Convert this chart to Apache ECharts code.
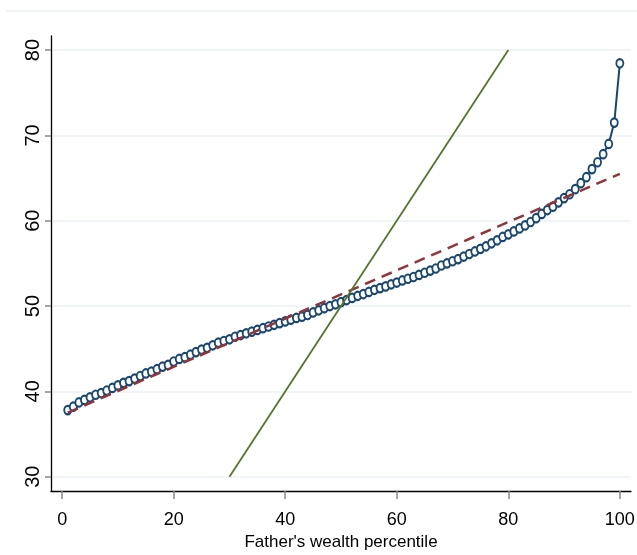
<!DOCTYPE html>
<html>
<head>
<meta charset="utf-8">
<script src="https://cdn.jsdelivr.net/npm/echarts@6/dist/echarts.min.js"></script>
<style>
html,body{margin:0;padding:0;background:#fff;}
#chart{width:637px;height:555px;}
</style>
</head>
<body>
<div id="chart"></div>
<script>
// Father's wealth percentile (x) for the connected scatter
const percentiles = [1,2,3,4,5,6,7,8,9,10,11,12,13,14,15,16,17,18,19,20,
  21,22,23,24,25,26,27,28,29,30,31,32,33,34,35,36,37,38,39,40,
  41,42,43,44,45,46,47,48,49,50,51,52,53,54,55,56,57,58,59,60,
  61,62,63,64,65,66,67,68,69,70,71,72,73,74,75,76,77,78,79,80,
  81,82,83,84,85,86,87,88,89,90,91,92,93,94,95,96,97,98,99,100];
// Son's outcome
const sonValues = [37.8,38.2,38.7,39.0,39.3,39.6,39.8,40.1,40.4,40.7,
  41.0,41.2,41.5,41.8,42.1,42.3,42.6,42.9,43.1,43.5,
  43.8,44.0,44.3,44.6,44.9,45.1,45.4,45.7,45.9,46.1,
  46.4,46.6,46.8,47.0,47.2,47.4,47.6,47.8,48.0,48.2,
  48.4,48.6,48.75,48.95,49.25,49.5,49.75,50.0,50.2,50.45,
  50.7,50.95,51.2,51.4,51.65,51.9,52.1,52.3,52.55,52.75,
  53.0,53.2,53.4,53.65,53.9,54.15,54.4,54.75,55.0,55.25,
  55.5,55.8,56.1,56.4,56.7,57.0,57.35,57.7,58.1,58.4,
  58.75,59.1,59.45,59.85,60.3,60.8,61.25,61.65,62.15,62.65,
  63.1,63.7,64.4,65.1,66.05,66.85,67.8,69.0,71.5,78.45];
// Linear fit (dashed)
const fitX = [1, 100];
const fitY = [37.5, 65.5];
// 45-degree reference line
const refX = [30, 80];
const refY = [30, 80];
// Tick labels
const xTicks = [0, 20, 40, 60, 80, 100];
const yTicks = [30, 40, 50, 60, 70, 80];
const xTitle = "Father's wealth percentile";

const zip = (a, b) => a.map((v, i) => [v, b[i]]);
const narrow = "'Liberation Sans Narrow', 'Arial Narrow', 'Liberation Sans', Arial, sans-serif";

const chart = echarts.init(document.getElementById('chart'), null, {renderer: 'canvas'});
chart.setOption({
  backgroundColor: '#ffffff',
  animation: false,
  graphic: [{
    type: 'line',
    shape: {x1: 6, y1: 11, x2: 637, y2: 11},
    style: {stroke: '#eaf2f3', lineWidth: 1.5},
    silent: true
  }],
  grid: {left: 51, right: 6, top: 36, bottom: 64, containLabel: false, outerBoundsMode: 'none'},
  xAxis: {
    type: 'value',
    min: -2,
    max: 102,
    name: xTitle,
    nameLocation: 'middle',
    nameGap: 42,
    nameTextStyle: {fontFamily: narrow, fontSize: 17, color: '#000'},
    axisLine: {show: true, onZero: false, lineStyle: {color: '#000', width: 1.3}},
    axisTick: {show: true, length: 8, customValues: xTicks, lineStyle: {color: '#888', width: 1.5}},
    axisLabel: {customValues: xTicks, margin: 20, fontFamily: narrow, fontSize: 18, color: '#000'},
    splitLine: {show: false}
  },
  yAxis: {
    type: 'value',
    min: 28.32,
    max: 81.65,
    axisLine: {show: true, onZero: false, lineStyle: {color: '#000', width: 1.3}},
    axisTick: {show: true, length: 6, customValues: yTicks, lineStyle: {color: '#888', width: 1.5}},
    axisLabel: {customValues: yTicks, rotate: 90, margin: 8, fontFamily: "'Liberation Sans', Arial, sans-serif", fontSize: 20, color: '#000'},
    splitLine: {show: true, lineStyle: {color: '#eaf2f3', width: 1.5}}
  },
  series: [
    {
      type: 'line',
      data: zip(percentiles, sonValues),
      symbol: 'circle',
      symbolSize: [7, 8.5],
      showAllSymbol: true,
      lineStyle: {color: '#1a476f', width: 2},
      itemStyle: {color: '#ffffff', borderColor: '#1a476f', borderWidth: 2},
      z: 2
    },
    {
      type: 'line',
      data: zip(fitX, fitY),
      symbol: 'none',
      lineStyle: {color: '#90353b', width: 2.5, type: [11, 7]},
      z: 3
    },
    {
      type: 'line',
      data: zip(refX, refY),
      symbol: 'none',
      lineStyle: {color: '#55752f', width: 1.8},
      z: 4
    }
  ]
});
</script>
</body>
</html>
